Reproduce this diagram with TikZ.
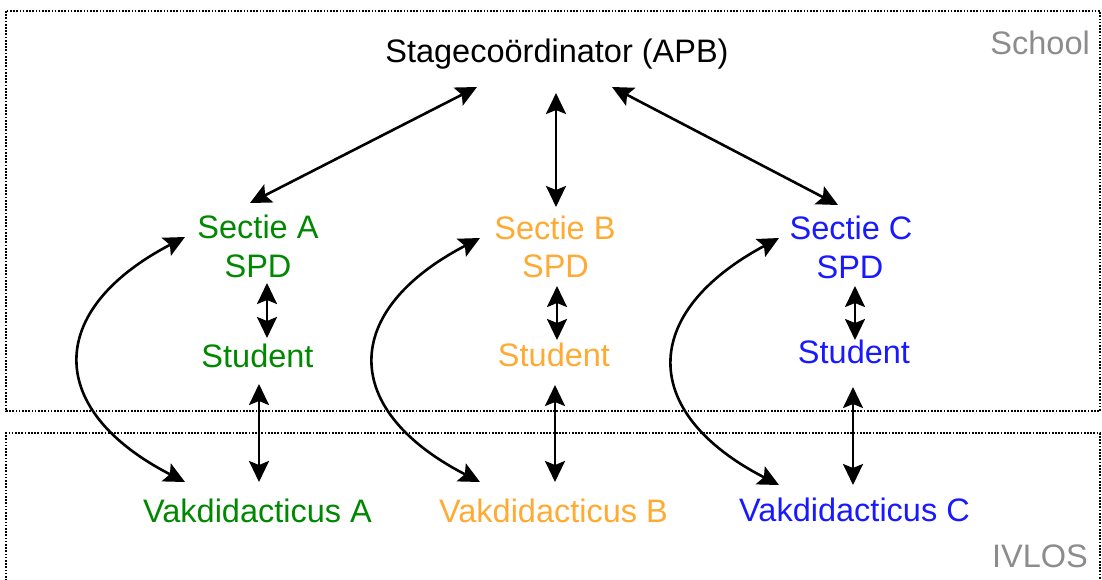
\documentclass[tikz,border=0pt]{standalone}
\usepackage{fontspec}
\setmainfont{Liberation Sans}
\usetikzlibrary{arrows.meta}
\definecolor{cgreen}{RGB}{0,136,0}
\definecolor{corange}{RGB}{255,170,51}
\definecolor{cblue}{RGB}{25,25,255}
\definecolor{cgray}{RGB}{140,140,140}
\tikzset{
  lbl/.style={anchor=base, inner sep=0pt, font=\fontsize{32.5}{38}\selectfont},
  zone/.style={anchor=base east, inner sep=0pt, font=\fontsize{32.5}{38}\selectfont, text=cgray},
  frame/.style={line width=1.9pt, dash pattern=on 1.7pt off 1.5pt},
  link/.style={line width=2.6pt, arrows={Stealth[length=21pt,width=20pt,inset=4pt]-Stealth[length=21pt,width=20pt,inset=4pt]}}
}
\begin{document}
\begin{tikzpicture}[x=1pt,y=-1pt]
\useasboundingbox (0,0) rectangle (1102,579);
% zones
\draw[frame] (6,11) rectangle (1100,411);
\draw[frame] (6,600) -- (6,433) -- (1100,433) -- (1100,600);
\node[zone] (school) at (1090,54) {School};
\node[zone] (ivlos) at (1088,567) {IVLOS};
% nodes
\node[lbl] (apb) at (557,62) {Stagecoördinator (APB)};
\node[lbl,text=cgreen] (secA) at (258,238.5) {Sectie A};
\node[lbl,text=cgreen] (spdA) at (258,277) {SPD};
\node[lbl,text=cgreen] (stuA) at (257.5,367) {Student};
\node[lbl,text=cgreen] (vakA) at (257.5,522) {Vakdidacticus A};
\node[lbl,text=corange] (secB) at (555,239) {Sectie B};
\node[lbl,text=corange] (spdB) at (555.5,277) {SPD};
\node[lbl,text=corange] (stuB) at (554,366) {Student};
\node[lbl,text=corange] (vakB) at (553.5,522) {Vakdidacticus B};
\node[lbl,text=cblue] (secC) at (851,239) {Sectie C};
\node[lbl,text=cblue] (spdC) at (850,278) {SPD};
\node[lbl,text=cblue] (stuC) at (854,363) {Student};
\node[lbl,text=cblue] (vakC) at (854.5,521) {Vakdidacticus C};
% connector end points
\coordinate (apbL) at (477,87);
\coordinate (apbM) at (556,93);
\coordinate (apbR) at (612,87);
\coordinate (secAt) at (250,203);
\coordinate (secBt) at (556,207);
\coordinate (secCt) at (838,205);
\coordinate (spdAb) at (267,283);
\coordinate (stuAt) at (267,338);
\coordinate (spdBb) at (557,286);
\coordinate (stuBt) at (557,340);
\coordinate (spdCb) at (855,286);
\coordinate (stuCt) at (855,340);
\coordinate (stuAb) at (259,384);
\coordinate (vakAt) at (259,482);
\coordinate (stuBb) at (555,385);
\coordinate (vakBt) at (555,482);
\coordinate (stuCb) at (853,387);
\coordinate (vakCt) at (853,485);
\coordinate (secAl) at (185,237);
\coordinate (vakAl) at (185,482);
\coordinate (secBl) at (480,238);
\coordinate (vakBl) at (480,482);
\coordinate (secCl) at (779,238);
\coordinate (vakCl) at (779,485);
% connectors
\draw[link] (apbL) -- (secAt);
\draw[link] (apbM) -- (secBt);
\draw[link] (apbR) -- (secCt);
\draw[link] (spdAb) -- (stuAt);
\draw[link] (spdBb) -- (stuBt);
\draw[link] (spdCb) -- (stuCt);
\draw[link] (stuAb) -- (vakAt);
\draw[link] (stuBb) -- (vakBt);
\draw[link] (stuCb) -- (vakCt);
\draw[link] (secAl) .. controls +(-140,73) and +(-140,-72) .. (vakAl);
\draw[link] (secBl) .. controls +(-140,73) and +(-140,-72) .. (vakBl);
\draw[link] (secCl) .. controls +(-140,75) and +(-140,-72) .. (vakCl);
\end{tikzpicture}
\end{document}
